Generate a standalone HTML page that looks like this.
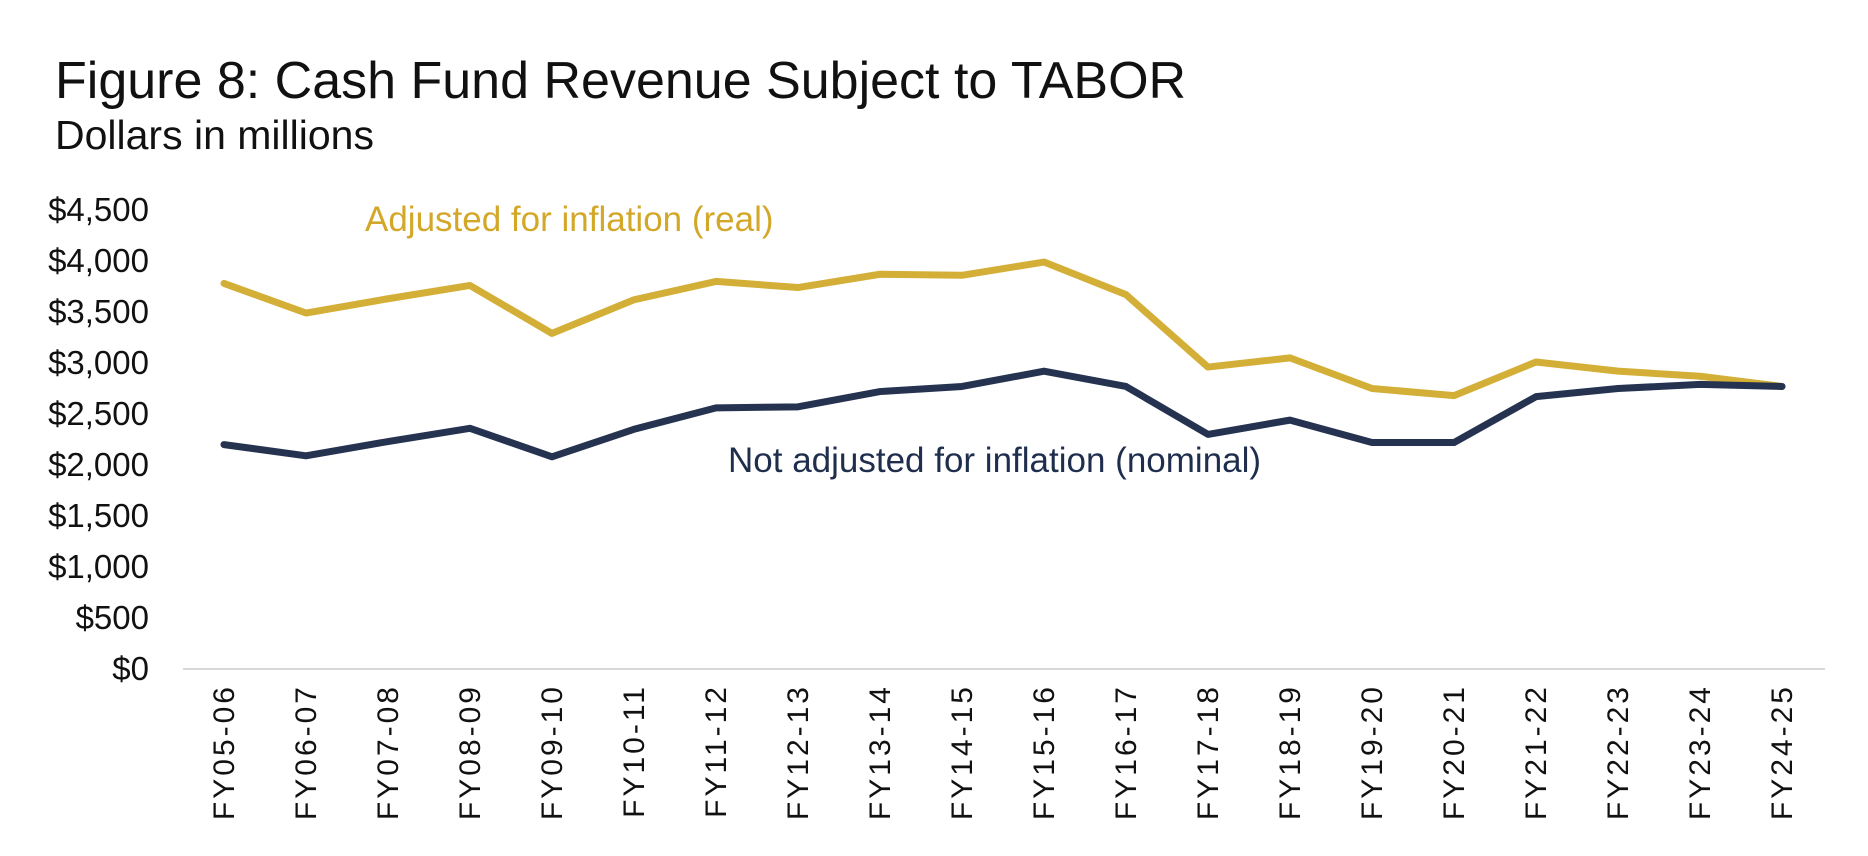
<!DOCTYPE html>
<html><head><meta charset="utf-8"><style>
body{margin:0;background:#fff;}
svg{display:block;font-family:"Liberation Sans",sans-serif;}
</style></head><body>
<svg id="chart" width="1868" height="856">
<text x="55" y="98" font-size="52" fill="#111">Figure 8: Cash Fund Revenue Subject to TABOR</text>
<text x="55" y="149" font-size="41" fill="#111">Dollars in millions</text>
<g id="yaxis"></g><g id="xaxis"></g><g id="lines"></g>
<text x="365" y="231" font-size="35" fill="#D3A829">Adjusted for inflation (real)</text>
<text x="728" y="472" font-size="35" fill="#1F2E4D">Not adjusted for inflation (nominal)</text>
</svg>
<script>
const categories=["FY05-06","FY06-07","FY07-08","FY08-09","FY09-10","FY10-11","FY11-12","FY12-13","FY13-14","FY14-15","FY15-16","FY16-17","FY17-18","FY18-19","FY19-20","FY20-21","FY21-22","FY22-23","FY23-24","FY24-25"];
const realValues=[3780,3490,3630,3760,3290,3620,3800,3740,3870,3860,3990,3670,2960,3050,2750,2680,3010,2920,2870,2770];
const nominalValues=[2200,2090,2230,2360,2080,2350,2560,2570,2720,2770,2920,2770,2300,2440,2220,2220,2670,2750,2790,2770];
const yTicks=[0,500,1000,1500,2000,2500,3000,3500,4000,4500];
const yTickLabels=["$0","$500","$1,000","$1,500","$2,000","$2,500","$3,000","$3,500","$4,000","$4,500"];
const NS="http://www.w3.org/2000/svg";
const y=v=>669-v*(459/4500);
const x=i=>224+i*82;
const ya=document.getElementById('yaxis'),xa=document.getElementById('xaxis'),ln=document.getElementById('lines');
yTicks.forEach((t,i)=>{const e=document.createElementNS(NS,'text');
e.setAttribute('x',149);e.setAttribute('y',y(t)+11);e.setAttribute('text-anchor','end');e.setAttribute('font-size','33');e.setAttribute('fill','#111');


e.textContent=yTickLabels[i];ya.appendChild(e);});
const ax=document.createElementNS(NS,'line');
ax.setAttribute('x1',183);ax.setAttribute('x2',1825);ax.setAttribute('y1',669);ax.setAttribute('y2',669);ax.setAttribute('stroke','#d9d9d9');ax.setAttribute('stroke-width','2');


xa.appendChild(ax);
categories.forEach((c,i)=>{const e=document.createElementNS(NS,'text');
e.setAttribute('transform',`translate(${x(i)+10},684) rotate(-90)`);e.setAttribute('text-anchor','end');e.setAttribute('font-size','30');e.setAttribute('letter-spacing','3');e.setAttribute('fill','#111');


e.textContent=c;xa.appendChild(e);});
function line(vals,color,name){const p=document.createElementNS(NS,'polyline');
p.setAttribute('points',vals.map((v,i)=>x(i)+','+y(v)).join(' '));
p.setAttribute('fill','none');p.setAttribute('stroke',color);p.setAttribute('stroke-width','7');p.setAttribute('stroke-linejoin','round');p.setAttribute('stroke-linecap','round');


ln.appendChild(p);}
line(realValues,'#D4AF37','real-series-line');
line(nominalValues,'#253350','nominal-series-line');
</script>
</body></html>
